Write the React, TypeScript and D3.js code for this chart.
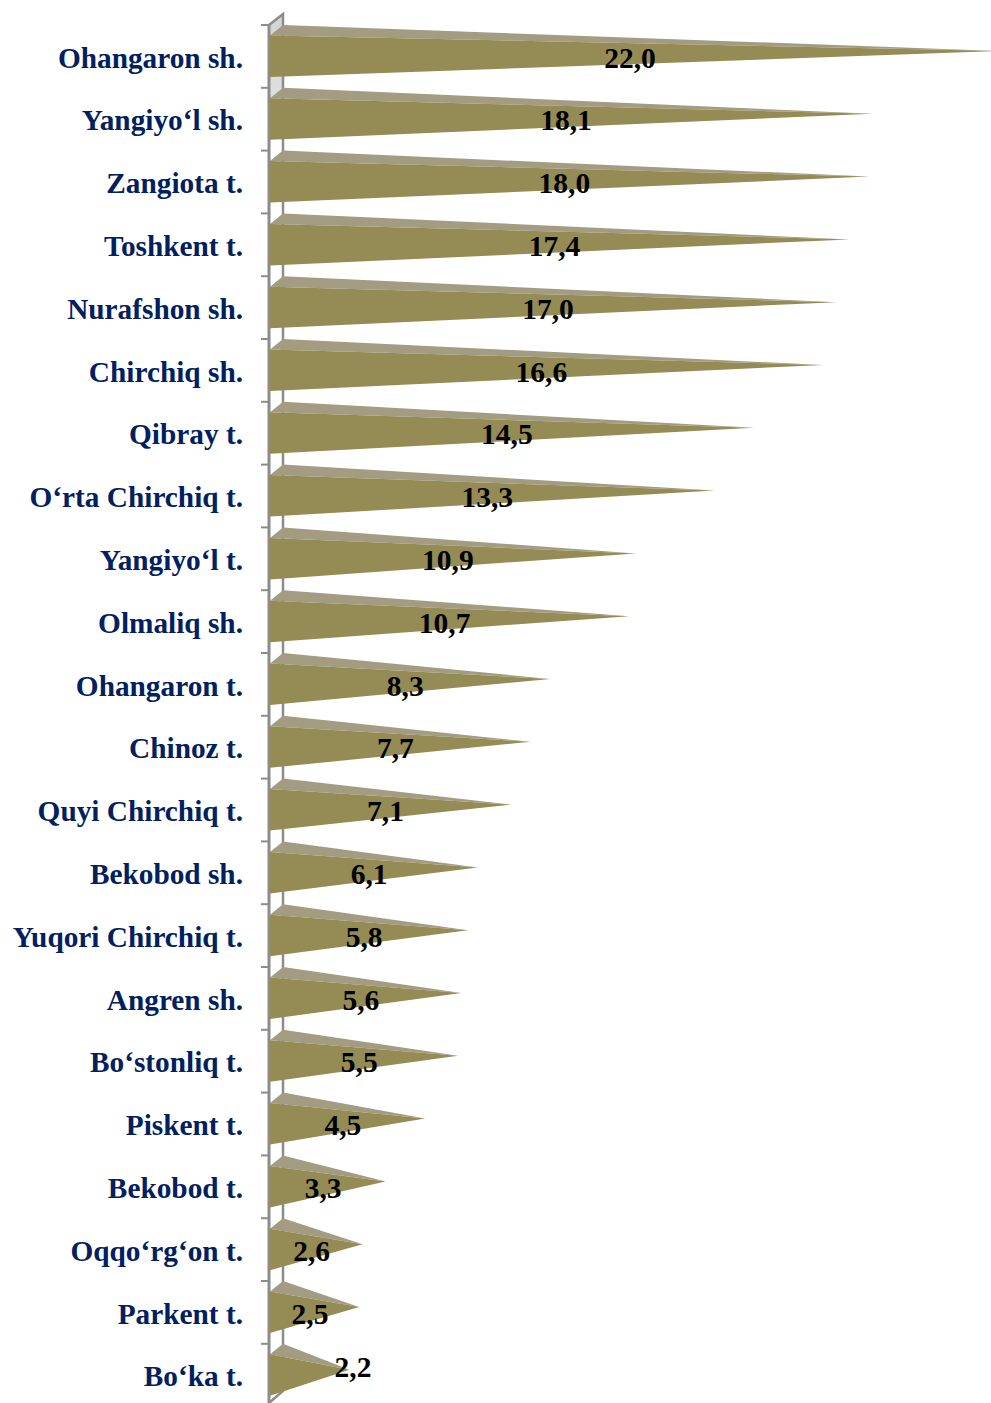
import React from "react";
import * as d3 from "d3";

const categories = ["Ohangaron sh.","Yangiyo‘l sh.","Zangiota t.","Toshkent t.","Nurafshon sh.","Chirchiq sh.","Qibray t.","O‘rta Chirchiq t.","Yangiyo‘l t.","Olmaliq sh.","Ohangaron t.","Chinoz t.","Quyi Chirchiq t.","Bekobod sh.","Yuqori Chirchiq t.","Angren sh.","Bo‘stonliq t.","Piskent t.","Bekobod t.","Oqqo‘rg‘on t.","Parkent t.","Bo‘ka t."];
const values = [22.0,18.1,18.0,17.4,17.0,16.6,14.5,13.3,10.9,10.7,8.3,7.7,7.1,6.1,5.8,5.6,5.5,4.5,3.3,2.6,2.5,2.2];
const tickLabelFormat = (v: number) => v.toFixed(1).replace(".", ",");

const W = 991, H = 1403;
const axisX = 269, depthX = 14, depthY = 10.5, bandTop = 25, step = 62.8, barH = 41.5;
const x = d3.scaleLinear().domain([0, 22]).range([axisX + 1, axisX + 1 + 32.9 * 22]);
const labelX = d3.scaleLinear().domain([0, 22]).range([axisX, axisX + 361]);
const band = d3.scaleBand<number>().domain(d3.range(categories.length)).range([bandTop, bandTop + step * categories.length]);
const line = d3.line();

export default function App() {
  return (
    <svg width={W} height={H} viewBox={`0 0 ${W} ${H}`} style={{ position: "absolute", left: 0, top: 0, background: "#fff" }}>
      <defs>
        <linearGradient id="wall" x1="0" y1="14" x2="0" y2="150" gradientUnits="userSpaceOnUse">
          <stop offset="0" stopColor="#d4d4d4" />
          <stop offset="0.6" stopColor="#dedede" />
          <stop offset="0.75" stopColor="#ffffff" />
        </linearGradient>
      </defs>
      <path d={line([[axisX, 25], [axisX + depthX, 14], [axisX + depthX, 1392], [axisX, 1403]])!} fill="url(#wall)" />
      <path d={line([[axisX, 25], [axisX + depthX, 14], [axisX + depthX, 1391], [axisX, 1403]])!} fill="none" stroke="#8c8c8c" strokeWidth={2.5} />
      <line x1={axisX} x2={axisX} y1={25} y2={1403} stroke="#8c8c8c" strokeWidth={3} />
      {categories.map((_, i) => (
        <line key={i} x1={axisX - 8} x2={axisX} y1={band(i)!} y2={band(i)!} stroke="#8c8c8c" strokeWidth={2} />
      ))}
      {values.map((v, i) => {
        const back = band(i)!;
        const frontTop = back + depthY;
        const bottom = frontTop + barH;
        const apex: [number, number] = [x(v) + depthX / 2, (frontTop + bottom) / 2 - depthY / 2];
        return (
          <g key={i}>
            <path d={line([[axisX + 1, frontTop], [axisX + depthX, back], apex])! + "Z"} fill="#a39c82" />
            <path d={line([[axisX + 1, frontTop], [axisX + 1, bottom], apex])! + "Z"} fill="#958b55" />
          </g>
        );
      })}
      {categories.map((c, i) => (
        <text key={c + i} x={243} y={band(i)! + 42.6} textAnchor="end" fontFamily="'Liberation Serif'" fontWeight="bold" fontSize={29.3} fill="#002060">{c}</text>
      ))}
      {values.map((v, i) => {
        const last = i === values.length - 1;
        return (
          <text key={i} x={last ? 353 : labelX(v)} y={band(i)! + (last ? 33.5 : 42.5)} textAnchor="middle" fontFamily="'Liberation Serif'" fontWeight="bold" fontSize={29.5} fill="#000">{tickLabelFormat(v)}</text>
        );
      })}
    </svg>
  );
}
